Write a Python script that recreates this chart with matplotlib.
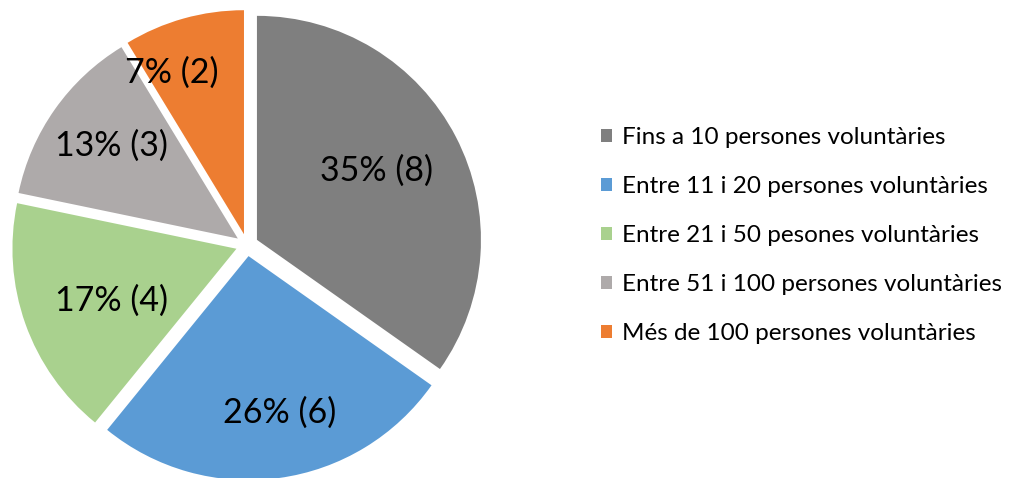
import matplotlib
matplotlib.use("Agg")
import matplotlib.pyplot as plt
import numpy as np

plt.rcParams['font.family'] = ['Lato', 'DejaVu Sans']

categories = ["Fins a 10 persones voluntàries",
              "Entre 11 i 20 persones voluntàries",
              "Entre 21 i 50 pesones voluntàries",
              "Entre 51 i 100 persones voluntàries",
              "Més de 100 persones voluntàries"]
counts = [8, 6, 4, 3, 2]
pct_labels = ["35%", "26%", "17%", "13%", "7%"]
colors = ["#7F7F7F", "#5B9BD5", "#A9D18E", "#AEAAAA", "#ED7D31"]

# label placement (style): radial distance and angular offset in degrees
label_dist = [0.615, 0.712, 0.603, 0.70, 0.79]
label_dang = [2.6, 3.4, 3.0, -1.0, 8.5]

W, H = 1009, 478
fig = plt.figure(figsize=(W / 100, H / 100), dpi=100)
R = 224.0
cx, cy = 247.0, 478 - 245.0
S = 262.0
ax = fig.add_axes([(cx - S) / W, (cy - S) / H, 2 * S / W, 2 * S / H])
wedges, _ = ax.pie(counts, colors=colors, startangle=90, counterclock=False,
                   explode=[0.05] * len(counts), radius=1.0,
                   wedgeprops=dict(linewidth=0))
ax.set_xlim(-S / R, S / R)
ax.set_ylim(-S / R, S / R)
ax.set_aspect('equal')
ax.axis('off')

for w, p, c, d, da in zip(wedges, pct_labels, counts, label_dist, label_dang):
    mid = np.deg2rad((w.theta1 + w.theta2) / 2 + da)
    cxw, cyw = w.center
    ax.text(cxw + d * np.cos(mid), cyw + d * np.sin(mid), f"{p} ({c})",
            ha='center', va='center', fontsize=24.5, color='black')

leg = fig.legend(wedges, categories, loc='center left',
                 bbox_to_anchor=(601 / W, (478 - 235.5) / H),
                 frameon=False, fontsize=17.5, handlelength=0.45, handleheight=0.45,
                 handletextpad=0.4, labelspacing=1.15, borderpad=0, borderaxespad=0)

fig.savefig("out.png", dpi=100, facecolor='white')
